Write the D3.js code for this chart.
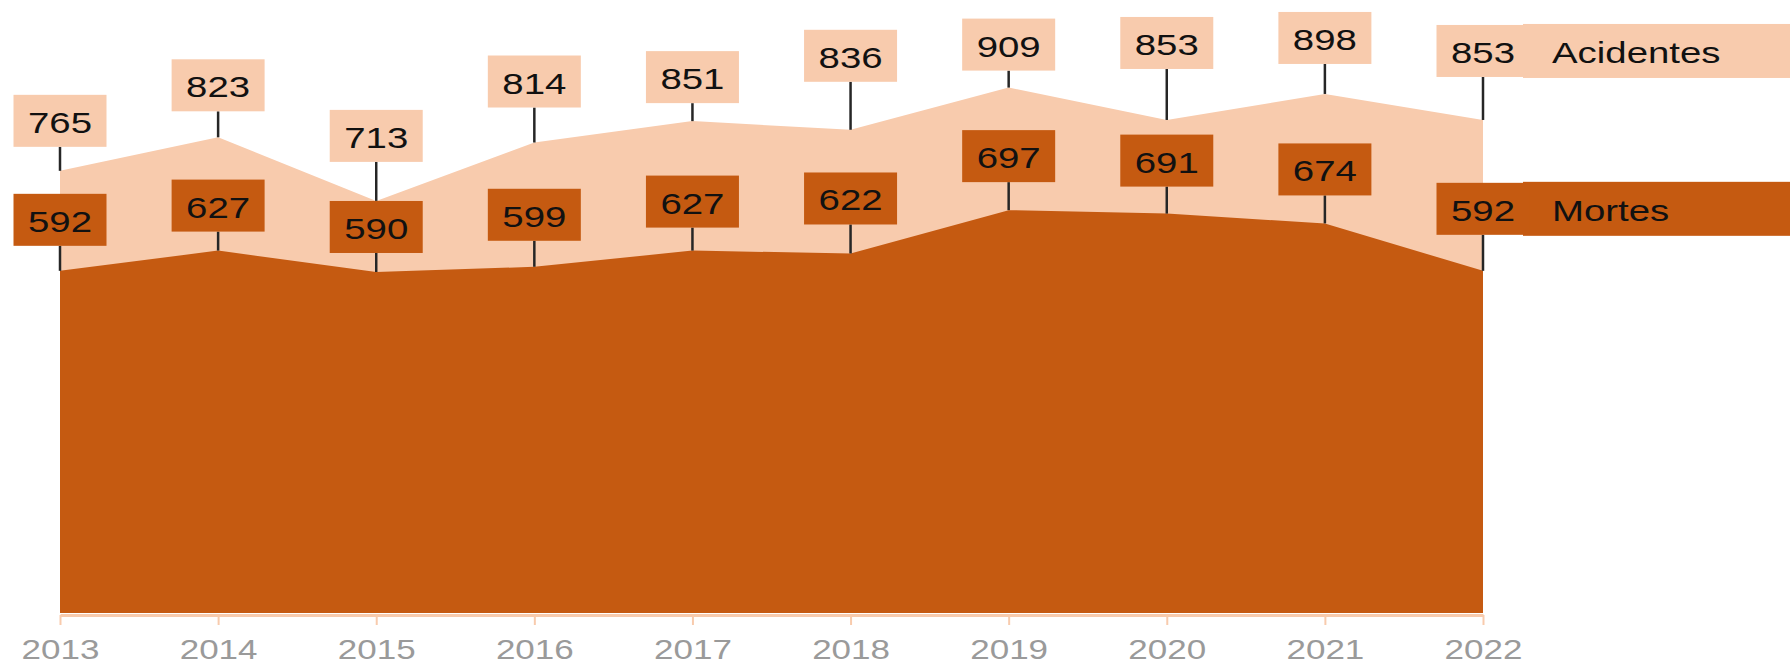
<!DOCTYPE html>
<html>
<head>
<meta charset="utf-8">
<script src="https://cdn.jsdelivr.net/npm/d3@7"></script>
<style>
  body { margin: 0; background: #fff; }
  text { font-family: "Liberation Sans", Arial, sans-serif; }
</style>
</head>
<body>
<div id="chart"></div>
<script>
// values
var years = [2013, 2014, 2015, 2016, 2017, 2018, 2019, 2020, 2021, 2022];
var acidentes = [765, 823, 713, 814, 851, 836, 909, 853, 898, 853];
var mortes = [592, 627, 590, 599, 627, 622, 697, 691, 674, 592];
var seriesNames = ["Acidentes", "Mortes"];

// leader line length under each label (label placement only)
var leaderA = [24, 26, 39, 35, 18, 48, 17, 51, 30, 43];
var leaderM = [25, 19, 19, 26, 23, 29, 28, 27, 28, 36];

var width = 1790, height = 664;
var light = "#F8CBAD", dark = "#C55A11";
var stretch = "scale(1.28,1)";
var boxW = 93, boxH = 52;

var svg = d3.select("#chart")
  .append("svg")
    .attr("width", width)
    .attr("height", height);

var x = d3.scaleLinear()
  .domain([2013, 2022])
  .range([60, 1483]);

var y = d3.scaleLinear()
  .domain([0, 1000])
  .range([613, 35]);

function area(values) {
  return d3.area()
    .x(function(d, i) { return x(years[i]); })
    .y0(y(0))
    .y1(function(d) { return y(d); })(values);
}

svg.append("path")
  .attr("d", area(acidentes))
  .attr("fill", light);

svg.append("path")
  .attr("d", area(mortes))
  .attr("fill", dark);

// x axis
var axis = svg.append("g")
  .attr("transform", "translate(0," + (y(0) + 2) + ")")
  .call(d3.axisBottom(x)
    .tickValues(years)
    .tickFormat(d3.format("d"))
    .tickSize(10)
    .tickSizeOuter(0));

axis.select(".domain")
  .attr("stroke", light)
  .attr("stroke-width", 3);
axis.selectAll(".tick line")
  .attr("stroke", light)
  .attr("stroke-width", 2);
axis.selectAll(".tick text")
  .attr("y", 44)
  .attr("dy", 0)
  .attr("transform", "scale(1.25,1)")
  .attr("fill", "#9a9a9a")
  .style("font-size", "28px");

// labels with leader lines
function labels(values, leaders, fill, name) {
  var g = svg.append("g");
  values.forEach(function(v, i) {
    var cx = x(years[i]);
    var bottom = y(v) - leaders[i];
    var top = bottom - boxH;

    g.append("line")
      .attr("x1", cx).attr("x2", cx)
      .attr("y1", bottom).attr("y2", y(v))
      .attr("stroke", "#262626")
      .attr("stroke-width", 2.5);

    if (i == values.length - 1) {
      // legend strip next to the last label
      g.append("rect")
        .attr("x", cx + 40)
        .attr("y", top - 1)
        .attr("width", width - cx - 40)
        .attr("height", boxH + 2)
        .attr("fill", fill);
      g.append("text")
        .attr("transform", "translate(" + (cx + 69) + "," + (top + 38) + ") " + stretch)
        .style("font-size", "30px")
        .attr("fill", "#111")
        .text(name);
    }

    g.append("rect")
      .attr("x", cx - boxW / 2)
      .attr("y", top)
      .attr("width", boxW)
      .attr("height", boxH)
      .attr("fill", fill);

    g.append("text")
      .attr("transform", "translate(" + cx + "," + (top + 38) + ") " + stretch)
      .attr("text-anchor", "middle")
      .style("font-size", "30px")
      .attr("fill", "#111")
      .text(v);
  });
}

labels(acidentes, leaderA, light, seriesNames[0]);
labels(mortes, leaderM, dark, seriesNames[1]);
</script>
</body>
</html>
